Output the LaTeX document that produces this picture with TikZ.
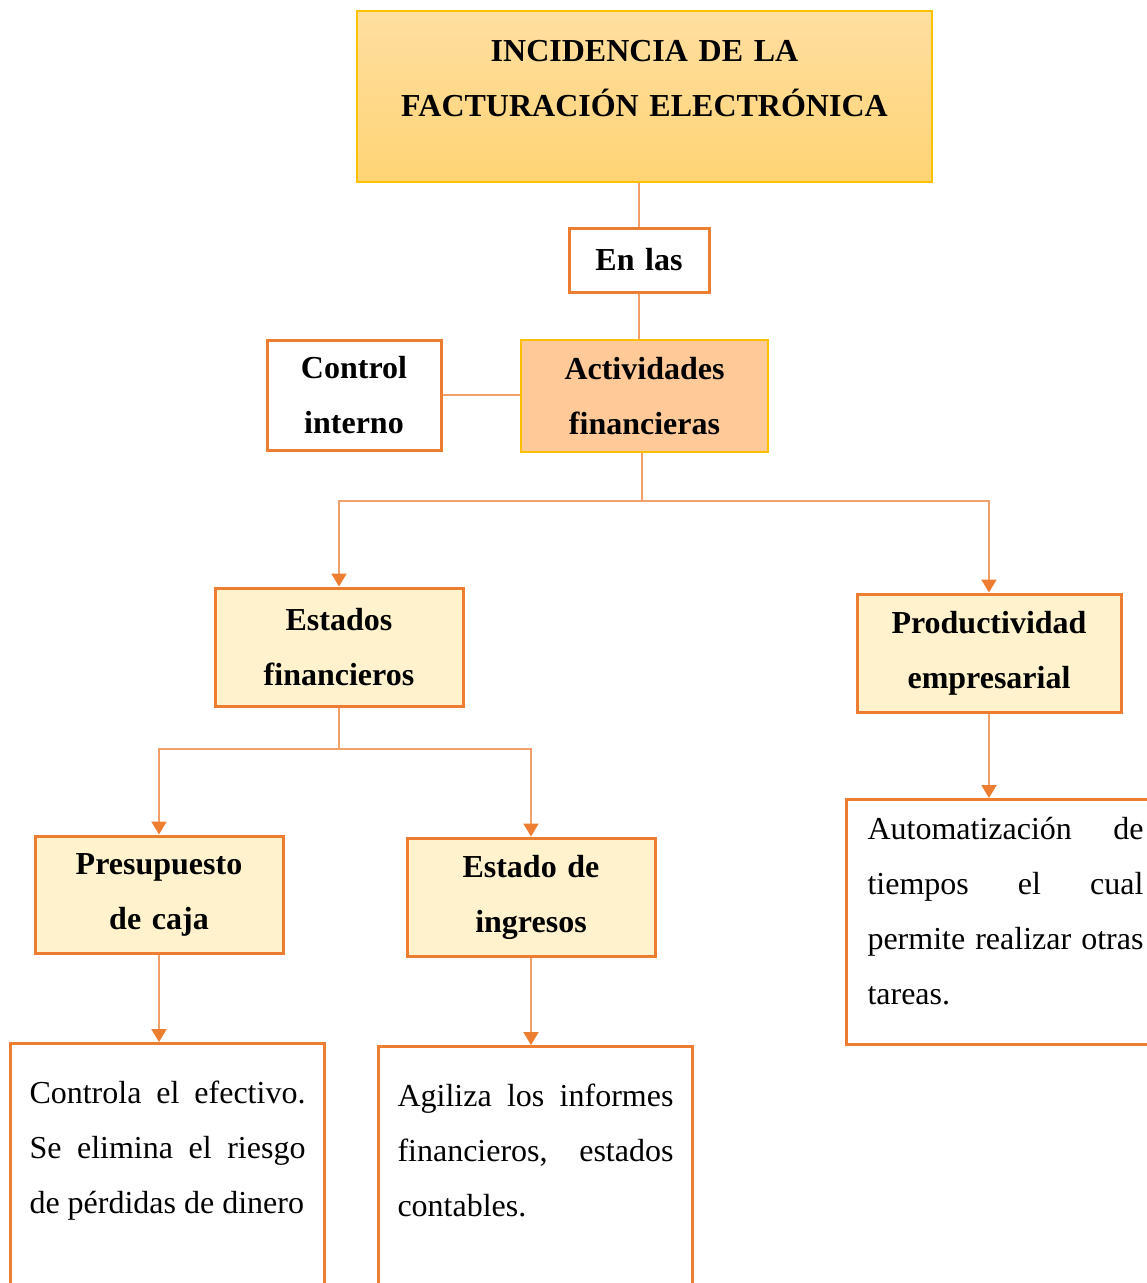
\documentclass[tikz,border=0pt]{standalone}
\usepackage{fontspec}
\setmainfont{Liberation Serif}
\usetikzlibrary{arrows.meta}

\definecolor{naranja}{HTML}{ED7D31}
\definecolor{lineanar}{HTML}{F2A06A}
\definecolor{dorado}{HTML}{FFC000}
\definecolor{crema}{HTML}{FFF2CC}
\definecolor{melocoton}{HTML}{FFCA97}
\definecolor{oroclaro}{HTML}{FFDFA0}
\definecolor{oroosc}{HTML}{FFD475}

% no hyphens, plain spacing in the justified boxes
\hyphenpenalty=10000
\exhyphenpenalty=10000
\tolerance=9999
\frenchspacing

\begin{document}
\begin{tikzpicture}[x=1pt,y=-1pt,
		etiqueta/.style={draw=naranja, line width=3pt, align=center, inner sep=0pt,
			font=\fontsize{32}{55}\selectfont\bfseries},
		parrafo/.style={draw=naranja, line width=3pt, anchor=north west, text width=276pt,
			align=justify, inner xsep=19pt, inner ysep=38pt, text height=22pt, text depth=200pt,
			font=\fontsize{32}{55}\selectfont},
		linea/.style={draw=lineanar, line width=2pt},
		flecha/.style={linea, -{Triangle[width=15pt,length=13pt,color=naranja]}}]
		\useasboundingbox (0,0) rectangle (1147,1283);

		% title
		\node[etiqueta, draw=dorado, line width=2pt, top color=oroclaro, bottom color=oroosc,
			anchor=north, text width=575pt, inner ysep=29pt, text height=21pt, text depth=92pt]
			(tit) at (644.5,10) {INCIDENCIA DE LA\\FACTURACIÓN ELECTRÓNICA};

		\node[etiqueta, fill=white, text width=140pt, minimum height=64pt] (enlas) at (639,260) {En las};
		\node[etiqueta, fill=white, text width=174pt, minimum height=110pt] (ctrl) at (354,395) {Control\\interno};
		\node[etiqueta, draw=dorado, line width=2pt, fill=melocoton, text width=247pt, minimum height=112pt]
			(act) at (644.5,396) {Actividades\\financieras};

		\node[etiqueta, fill=crema, text width=248pt, minimum height=118pt] (est) at (339,647) {Estados\\financieros};
		\node[etiqueta, fill=crema, text width=264pt, minimum height=118pt] (prod) at (989,653) {Productividad\\empresarial};
		\node[etiqueta, fill=crema, text width=248pt, minimum height=117pt] (pres) at (159,894.5) {Presupuesto\\de caja};
		\node[etiqueta, fill=crema, text width=248pt, minimum height=118pt] (ing) at (531,897) {Estado de\\ingresos};

		% text boxes
		\node[parrafo] (txtpres) at (9,1042) {Controla el efectivo. Se elimina el riesgo de pérdidas de dinero};
		\node[parrafo] (txtagil) at (377,1045) {Agiliza los informes financieros, estados contables.};
		\node[parrafo, inner xsep=21pt, inner ysep=18pt, text depth=187pt] (txtauto) at (845,798)
			{Automatización de tiempos el cual permite realizar otras tareas.};

		% connectors
		\draw[linea] (tit.south -| enlas.north) -- (enlas.north);
		\draw[linea] (enlas.south) -- (enlas.south |- act.north);
		\draw[linea] (ctrl.east) -- (ctrl.east -| act.west);

		\coordinate (ramaA) at (642,501);
		\draw[linea] (act.south -| ramaA) -- (ramaA);
		\draw[flecha] (ramaA) -| (est.north);
		\draw[flecha] (ramaA) -| (prod.north);

		\coordinate (ramaE) at (339,749);
		\draw[linea] (est.south) -- (ramaE);
		\draw[flecha] (ramaE) -| (pres.north);
		\draw[flecha] (ramaE) -| (ing.north);

		\draw[flecha] (pres.south) -- (pres.south |- txtpres.north);
		\draw[flecha] (ing.south) -- (ing.south |- txtagil.north);
		\draw[flecha] (prod.south) -- (prod.south |- txtauto.north);
	\end{tikzpicture}
\end{document}
